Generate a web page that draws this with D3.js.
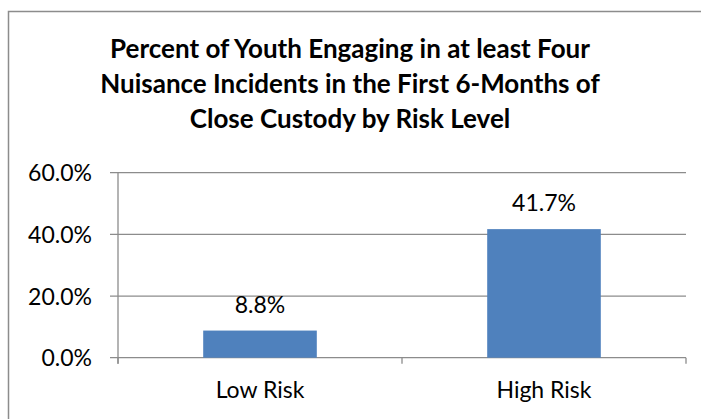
<!DOCTYPE html>
<html>
<head>
<meta charset="utf-8">
<script src="https://cdn.jsdelivr.net/npm/d3@7"></script>
<style>
  body { margin: 0; background: #fff; }
  text { font-family: Lato, "Open Sans", sans-serif; fill: #000; }
</style>
</head>
<body>
<svg id="chart"></svg>
<script>
// chart data
const categories = ["Low Risk", "High Risk"];
const values = [8.8, 41.7];
const yTicks = [0, 20, 40, 60];
const titleLines = [
    "Percent of Youth Engaging in at least Four",
    "Nuisance Incidents in the First 6-Months of",
    "Close Custody by Risk Level"
];

const width = 701, height = 419;
const svg = d3.select("#chart")
    .attr("width", width)
    .attr("height", height);

// outer chart border (runs off the right/bottom edge)
svg.append("rect")
    .attr("x", 8.5).attr("y", 11.5)
    .attr("width", 720).attr("height", 440)
    .attr("fill", "none")
    .attr("stroke", "#8c8c8c")
    .attr("stroke-width", 1.5);

// title
svg.append("g").selectAll("text")
    .data(titleLines)
    .enter().append("text")
    .attr("x", 350)
    .attr("y", (d, i) => 58 + i * 35)
    .attr("text-anchor", "middle")
    .style("font-weight", "bold")
    .style("font-size", "26px")
    .text(d => d);

const plot = { left: 118, right: 686, top: 172.7, bottom: 357.7 };

const x = d3.scaleBand()
    .domain(categories)
    .range([plot.left, plot.right])
    .paddingInner(0.6)
    .paddingOuter(0.3);

const y = d3.scaleLinear()
    .domain([0, 60])
    .range([plot.bottom, plot.top]);

// gridlines
svg.append("g").selectAll("line")
    .data(yTicks)
    .enter().append("line")
    .attr("x1", plot.left - 8)
    .attr("x2", plot.right)
    .attr("y1", d => y(d))
    .attr("y2", d => y(d))
    .attr("stroke", "#8c8c8c")
    .attr("stroke-width", 1.3);

// y axis
const yAxis = svg.append("g")
    .attr("transform", `translate(${plot.left},0)`)
    .call(d3.axisLeft(y).tickValues(yTicks).tickSize(8).tickPadding(18)
        .tickFormat(d => d.toFixed(1) + "%"));
yAxis.select(".domain").attr("stroke", "#8c8c8c").attr("stroke-width", 1.3)
    .attr("d", `M0,${plot.top}V${plot.bottom + 6}`);
yAxis.selectAll(".tick line").remove();
yAxis.selectAll("text").style("font-size", "23px").attr("dy", "0.35em");

// x axis
const xAxis = svg.append("g")
    .attr("transform", `translate(0,${plot.bottom})`)
    .call(d3.axisBottom(x).tickSize(0).tickPadding(24));
xAxis.select(".domain").remove();
xAxis.selectAll("text").style("font-size", "23px");
// tick marks at category boundaries
svg.append("g").selectAll("line")
    .data([plot.left, plot.left + x.step(), plot.right])
    .enter().append("line")
    .attr("x1", d => d).attr("x2", d => d)
    .attr("y1", plot.bottom).attr("y2", plot.bottom + 6)
    .attr("stroke", "#8c8c8c")
    .attr("stroke-width", 1.3);

// bars
svg.append("g").selectAll("rect")
    .data(values)
    .enter().append("rect")
    .attr("x", (d, i) => x(categories[i]))
    .attr("y", d => y(d))
    .attr("width", x.bandwidth())
    .attr("height", d => y(0) - y(d))
    .attr("fill", "#4f81bd");

// value labels
svg.append("g").selectAll("text")
    .data(values)
    .enter().append("text")
    .attr("x", (d, i) => x(categories[i]) + x.bandwidth() / 2)
    .attr("y", d => y(d) - 18)
    .attr("text-anchor", "middle")
    .style("font-size", "23px")
    .text(d => d.toFixed(1) + "%");
</script>
</body>
</html>
